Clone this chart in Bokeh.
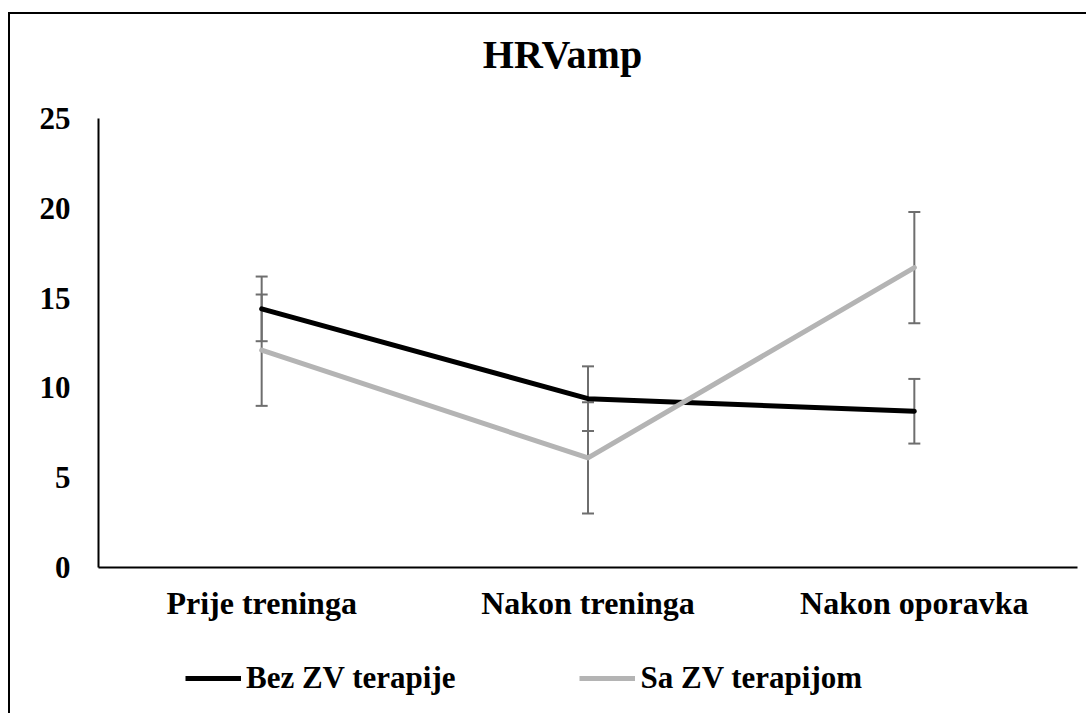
from bokeh.plotting import figure
from bokeh.layouts import column
from bokeh.models import (ColumnDataSource, Whisker, TeeHead, Legend, LegendItem,
                          FactorRange, Range1d, Label)
from bokeh.embed import file_html
from bokeh.resources import INLINE

categories = ["Prije treninga", "Nakon treninga", "Nakon oporavka"]
bez_values = [14.4, 9.4, 8.7]
bez_errors = [1.8, 1.8, 1.8]
sa_values = [12.1, 6.1, 16.7]
sa_errors = [3.1, 3.1, 3.1]
y_ticks = [0, 5, 10, 15, 20, 25]
title_text = "HRVamp"
series_names = ["Bez ZV terapije", "Sa ZV terapijom"]

FONT = "Liberation Serif"
BLACK = "#000000"
GRAY = "#B4B4B4"
ERR = "#6E6E6E"
W = 1076

src_bez = ColumnDataSource(dict(
    x=categories, y=bez_values,
    upper=[v + e for v, e in zip(bez_values, bez_errors)],
    lower=[v - e for v, e in zip(bez_values, bez_errors)]))
src_sa = ColumnDataSource(dict(
    x=categories, y=sa_values,
    upper=[v + e for v, e in zip(sa_values, sa_errors)],
    lower=[v - e for v, e in zip(sa_values, sa_errors)]))


def blank_fig(height):
    f = figure(width=W, height=height, x_range=Range1d(0, 1), y_range=Range1d(0, 1),
               x_axis_type=None, y_axis_type=None, output_backend="svg",
               toolbar_location=None, min_border=0, min_border_left=0,
               min_border_right=0, min_border_top=0, min_border_bottom=0)
    f.outline_line_color = None
    return f


# ---- title strip ----
tf = blank_fig(84)
tf.add_layout(Label(x=464, y=44, x_units="screen", y_units="screen",
                    text=title_text, text_font=FONT,
                    text_font_style="bold", text_font_size="40px",
                    text_align="center", text_baseline="alphabetic",
                    text_color="black"))

# ---- main chart ----
p = figure(x_range=FactorRange(*categories, range_padding=0), y_range=(0, 25),
           width=W, height=539, output_backend="svg", toolbar_location=None,
           min_border_left=88, min_border_right=9, min_border_top=20,
           min_border_bottom=70)
p.xgrid.visible = False
p.ygrid.visible = False
p.outline_line_color = None

for ax in (p.xaxis, p.yaxis):
    ax.axis_line_color = "black"
    ax.axis_line_width = 2
    ax.major_tick_line_color = None
    ax.minor_tick_line_color = None
    ax.major_label_text_font = FONT
    ax.major_label_text_font_style = "bold"
    ax.major_label_text_color = "black"
p.yaxis.ticker = y_ticks
p.yaxis.major_label_text_font_size = "31px"
p.yaxis.major_label_standoff = 22
p.xaxis.major_label_text_font_size = "32px"
p.xaxis.major_label_standoff = 11


def whisk(src):
    return Whisker(base="x", upper="upper", lower="lower", source=src,
                   line_color=ERR, line_width=2,
                   upper_head=TeeHead(size=12, line_color=ERR, line_width=2),
                   lower_head=TeeHead(size=12, line_color=ERR, line_width=2))


p.add_layout(whisk(src_bez))
p.line("x", "y", source=src_bez, line_color=BLACK, line_width=5,
       line_cap="round", line_join="round")
p.add_layout(whisk(src_sa))
p.line("x", "y", source=src_sa, line_color=GRAY, line_width=5,
       line_cap="round", line_join="round")

# ---- legend strip (same series, y range placed so only the key shows) ----
lf = figure(width=W, height=76, x_range=FactorRange(*categories),
            y_range=Range1d(100, 101), x_axis_type=None, y_axis_type=None,
            output_backend="svg", toolbar_location=None, min_border=0,
            min_border_left=0, min_border_right=0, min_border_top=0,
            min_border_bottom=0)
lf.outline_line_color = None
l1 = lf.line("x", "y", source=src_bez, line_color=BLACK, line_width=5)
l2 = lf.line("x", "y", source=src_sa, line_color=GRAY, line_width=5)
legend = Legend(items=[LegendItem(label=series_names[0], renderers=[l1]),
                       LegendItem(label=series_names[1], renderers=[l2])],
                orientation="horizontal", location=(87, 17),
                glyph_width=56, glyph_height=30, label_height=30,
                label_standoff=5, spacing=124, padding=0, margin=0,
                border_line_color=None, background_fill_alpha=0,
                label_text_font=FONT, label_text_font_size="31px",
                label_text_font_style="bold", label_text_color="black")
lf.add_layout(legend)

page = column(tf, p, lf, spacing=0,
              styles={"border-top": "2px solid black",
                      "border-left": "2px solid black",
                      "margin-top": "12px", "margin-left": "8px"})

open("out.html", "w").write(file_html(page, INLINE))
